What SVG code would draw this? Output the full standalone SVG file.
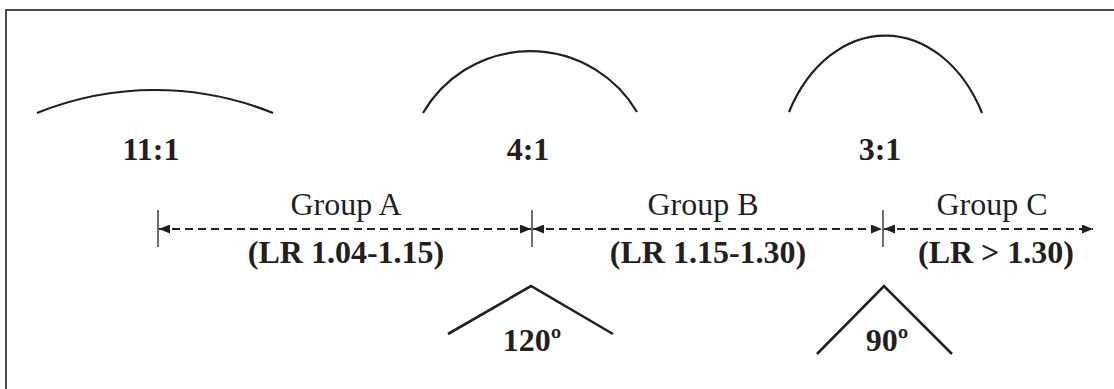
<svg xmlns="http://www.w3.org/2000/svg" width="1114" height="389" viewBox="0 0 1114 389">
<style>
.t{font-family:"Liberation Serif","Times New Roman",serif;fill:#231f20;text-anchor:middle}
.b{font-weight:bold;font-size:32px}
.r{font-size:32px}
.arc{fill:none;stroke:#231f20;stroke-width:2.2}
.ang{fill:none;stroke:#231f20;stroke-width:2.6}
.dim{stroke:#231f20;stroke-width:2;stroke-dasharray:8 5;fill:none}
.tick{stroke:#231f20;stroke-width:1.3}
</style>
<defs>
<marker id="ah" markerUnits="userSpaceOnUse" markerWidth="11" markerHeight="9" viewBox="0 0 11 9" refX="11" refY="4.5" orient="auto-start-reverse">
<path d="M0,0 L11,4.5 L0,9 z" fill="#231f20"/>
</marker>
</defs>
<rect x="6" y="10" width="1130" height="400" fill="#fff" stroke="#231f20" stroke-width="1.6"/>
<g id="shape-11-1">
<path class="arc" d="M37,113 A314,314 0 0 1 273,113"/>
<text class="t b" x="151" y="160">11:1</text>
</g>
<g id="shape-4-1">
<path class="arc" d="M423,113 A124,124 0 0 1 637,112"/>
<text class="t b" x="528" y="160">4:1</text>
</g>
<g id="shape-3-1">
<path class="arc" d="M789,112 A110,148 0 0 1 982,113"/>
<text class="t b" x="880" y="160">3:1</text>
</g>
<g id="group-a">
<text class="t r" x="346" y="215">Group A</text>
<text class="t b" x="346" y="263">(LR 1.04-1.15)</text>
</g>
<g id="group-b">
<text class="t r" x="703" y="215">Group B</text>
<text class="t b" x="708" y="263">(LR 1.15-1.30)</text>
</g>
<g id="group-c">
<text class="t r" x="992" y="215">Group C</text>
<text class="t b" x="996" y="263">(LR &gt; 1.30)</text>
</g>
<g id="angle-120">
<polyline class="ang" points="448,334 531,286 613,334"/>
<text class="t b" x="532" y="351">120º</text>
</g>
<g id="angle-90">
<polyline class="ang" points="817,354 884,286 952,354"/>
<text class="t b" x="887" y="351">90º</text>
</g>
<g id="connectors">
<line class="tick" x1="158" y1="210" x2="158" y2="247"/>
<line class="tick" x1="532" y1="210" x2="532" y2="247"/>
<line class="tick" x1="883" y1="210" x2="883" y2="247"/>
<line class="dim" x1="159" y1="229" x2="531" y2="229" marker-start="url(#ah)" marker-end="url(#ah)"/>
<line class="dim" x1="533" y1="229" x2="882" y2="229" marker-start="url(#ah)" marker-end="url(#ah)"/>
<line class="dim" x1="884" y1="229" x2="1093" y2="229" marker-start="url(#ah)" marker-end="url(#ah)"/>
</g>
</svg>
